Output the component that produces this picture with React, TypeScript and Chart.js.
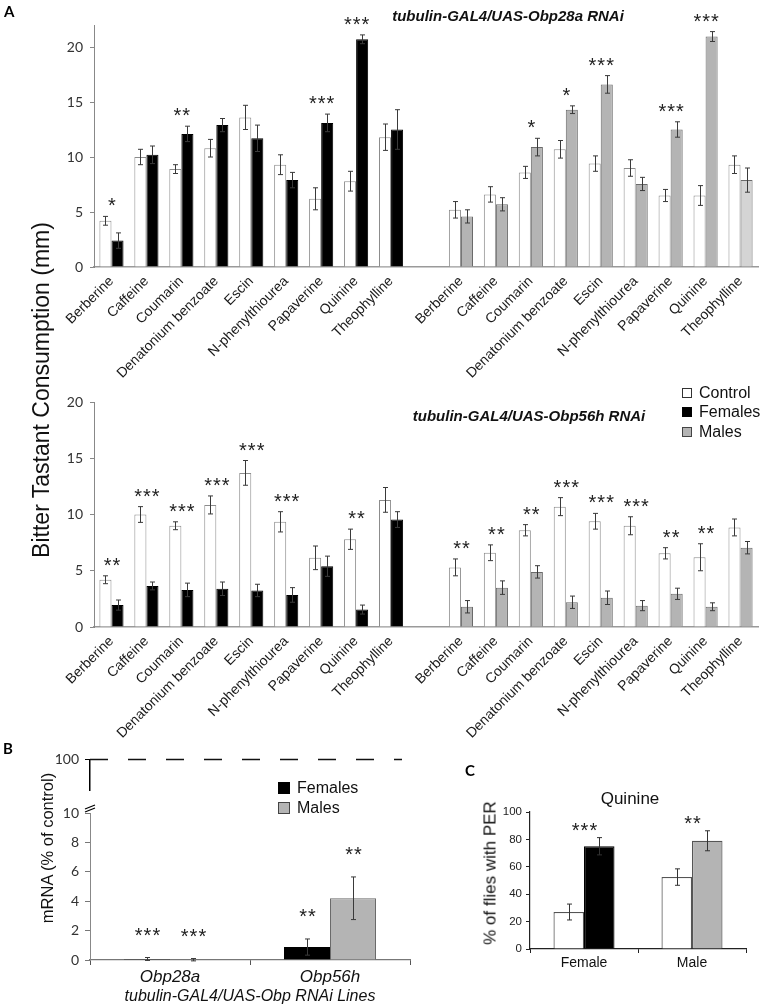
import React, { useEffect, useRef } from "react";
import { Chart, registerables } from "chart.js";
Chart.register(...registerables);

// ---------------- DATA ----------------
const tastants = ["Berberine", "Caffeine", "Coumarin", "Denatonium benzoate", "Escin", "N-phenylthiourea", "Papaverine", "Quinine", "Theophylline"];
const aCategories = [...tastants, "", ...tastants];

// Panel A (top): tubulin-GAL4/UAS-Obp28a RNAi — females (left), males (right)
const obp28aControl = [4.2, 10.0, 8.9, 10.8, 13.6, 9.3, 6.2, 7.8, 11.8, null, 5.2, 6.6, 8.6, 10.7, 9.4, 9.0, 6.5, 6.5, 9.3];
const obp28aControlErr = [0.4, 0.7, 0.4, 0.8, 1.1, 0.9, 1.0, 0.9, 1.2, null, 0.75, 0.7, 0.55, 0.8, 0.7, 0.75, 0.55, 0.9, 0.8];
const obp28aRnai = [2.4, 10.2, 12.1, 12.9, 11.7, 7.9, 13.1, 20.7, 12.5, null, 4.6, 5.7, 10.9, 14.3, 16.6, 7.55, 12.5, 20.95, 7.9];
const obp28aRnaiErr = [0.7, 0.8, 0.7, 0.6, 1.2, 0.7, 0.8, 0.4, 1.8, null, 0.6, 0.6, 0.8, 0.35, 0.8, 0.6, 0.7, 0.45, 1.1];
const obp28aStars = ["*", "", "**", "", "", "", "***", "***", "", "", "", "", "*", "*", "***", "", "***", "***", ""];

// Panel A (bottom): tubulin-GAL4/UAS-Obp56h RNAi
const obp56hControl = [4.2, 10.0, 9.0, 10.85, 13.7, 9.35, 6.15, 7.8, 11.3, null, 5.3, 6.6, 8.6, 10.7, 9.4, 9.0, 6.55, 6.2, 8.85];
const obp56hControlErr = [0.35, 0.7, 0.35, 0.8, 1.1, 0.9, 1.05, 0.9, 1.1, null, 0.75, 0.7, 0.5, 0.8, 0.7, 0.8, 0.5, 1.2, 0.75];
const obp56hRnai = [1.95, 3.65, 3.3, 3.4, 3.25, 2.85, 5.4, 1.55, 9.55, null, 1.8, 3.5, 4.9, 2.2, 2.6, 1.9, 2.95, 1.8, 7.05];
const obp56hRnaiErr = [0.45, 0.35, 0.6, 0.6, 0.55, 0.65, 0.9, 0.4, 0.7, null, 0.55, 0.6, 0.55, 0.55, 0.6, 0.45, 0.5, 0.35, 0.55];
const obp56hStars = ["**", "***", "***", "***", "***", "***", "", "**", "", "", "**", "**", "**", "***", "***", "***", "**", "**", ""];

// Panel B: mRNA (% of control)
const bLines = ["Obp28a", "Obp56h"];
const bFemales = [0.07, 0.88];
const bFemalesErr = [0.1, 0.55];
const bMales = [0.02, 4.2];
const bMalesErr = [0.08, 1.45];
const bFemaleStars = ["***", "**"];
const bMaleStars = ["***", "**"];
const bControlLevel = 100;
const bTopTicks = [100];

// Panel C: Quinine PER
const cSexes = ["Female", "Male"];
const cControl = [27, 52.5];
const cControlErr = [5.8, 6.0];
const cRnai = [75, 79];
const cRnaiErr = [6.3, 7.3];
const cStars = ["***", "**"];

// ---------------- STYLE ----------------
const SANS = '"Liberation Sans", Arial, sans-serif';
const CAL = 'Lato, "Liberation Sans", sans-serif';
const BLACK = "#000000";
const GRAY = "#b4b4b4";
const GRAY_LIGHT = "#d4d4d4";
const GRAY_EDGE = "#6a6a6a";

function rnaiColors(n: number, leftColor: string, rightColor: string, lastRight?: string) {
  const arr: string[] = [];
  for (let i = 0; i < n; i++) {
    if (i < 9) arr.push(leftColor);
    else if (i === 9) arr.push("rgba(0,0,0,0)");
    else arr.push(i === n - 1 && lastRight ? lastRight : rightColor);
  }
  return arr;
}

function makeErrPlugin(cfg: any) {
  return {
    id: "errStars",
    afterDatasetsDraw(chart: any) {
      const ctx = chart.ctx;
      const ys = chart.scales.y;
      const xs = chart.scales.x;
      const tops: number[] = [];
      const barTops: number[][] = [];
      ctx.save();
      ctx.strokeStyle = cfg.color || "#3a3a3a";
      ctx.lineWidth = 1;
      chart.data.datasets.forEach((ds: any, di: number) => {
        const errs = cfg.errors[di];
        const meta = chart.getDatasetMeta(di);
        barTops[di] = [];
        meta.data.forEach((bar: any, i: number) => {
          const v = ds.data[i];
          if (v == null) return;
          const e = errs && errs[i] != null ? errs[i] : 0;
          const yt = ys.getPixelForValue(v + e);
          const yb = ys.getPixelForValue(v - e);
          const x = Math.round(bar.x) + 0.5;
          if (e > 0) {
            ctx.beginPath();
            ctx.moveTo(x, yt);
            ctx.lineTo(x, yb);
            ctx.moveTo(x - cfg.cap, yt);
            ctx.lineTo(x + cfg.cap, yt);
            ctx.moveTo(x - cfg.cap, yb);
            ctx.lineTo(x + cfg.cap, yb);
            ctx.stroke();
          }
          barTops[di][i] = yt;
          tops[i] = Math.min(tops[i] ?? Infinity, yt);
        });
      });
      ctx.fillStyle = "#222";
      ctx.font = cfg.starFont;
      ctx.textAlign = "center";
      ctx.textBaseline = "alphabetic";
      if ("letterSpacing" in ctx) (ctx as any).letterSpacing = cfg.starSpacing || "0px";
      if (cfg.groupStars) {
        cfg.groupStars.forEach((s: string, i: number) => {
          if (!s) return;
          ctx.fillText(s, xs.getPixelForValue(i) + 1, tops[i] - cfg.starOffset);
        });
      }
      if (cfg.barStars) {
        cfg.barStars.forEach((arr: string[], di: number) =>
          arr.forEach((s: string, i: number) => {
            if (!s) return;
            const bar = chart.getDatasetMeta(di).data[i];
            ctx.fillText(s, bar.x + 1, barTops[di][i] - cfg.starOffset);
          })
        );
      }
      ctx.restore();
    },
  };
}

function panelAConfig(control: any[], controlErr: any[], rnai: any[], rnaiErr: any[], stars: string[], yMax: number, padTop: number, lightLast: boolean) {
  const fills = rnaiColors(aCategories.length, BLACK, GRAY, lightLast ? GRAY_LIGHT : undefined);
  const edges = rnaiColors(aCategories.length, BLACK, GRAY_EDGE);
  return {
    type: "bar",
    data: {
      labels: aCategories,
      datasets: [
        { label: "Control", data: control, backgroundColor: "#ffffff", borderColor: "#8c8c8c", borderWidth: 1 },
        { label: "RNAi", data: rnai, backgroundColor: fills, borderColor: edges, borderWidth: 1 },
      ],
    },
    options: {
      responsive: false,
      animation: false,
      layout: { padding: { top: padTop, right: 2, left: 0, bottom: 0 } },
      datasets: { bar: { categoryPercentage: 0.69, barPercentage: 1 } },
      plugins: { legend: { display: false }, tooltip: { enabled: false } },
      scales: {
        x: {
          type: "category",
          grid: { display: false, drawTicks: false },
          border: { color: "#9a9a9a", width: 1.5 },
          ticks: { autoSkip: false, minRotation: 45, maxRotation: 45, padding: 6, color: "#1a1a1a", font: { family: SANS, size: 14 } },
          afterFit: (s: any) => { s.height = 113; },
        },
        y: {
          min: 0,
          max: yMax,
          ticks: { stepSize: 5, includeBounds: false, padding: 7, color: "#333", font: { family: CAL, size: 14 } },
          grid: { drawOnChartArea: false, drawTicks: true, tickLength: 4, color: "#888" },
          border: { color: "#888", width: 1 },
          afterFit: (s: any) => { s.width = 94; },
        },
      },
    },
    plugins: [makeErrPlugin({ errors: [controlErr, rnaiErr], groupStars: stars, cap: 2.5, starFont: `20px ${SANS}`, starSpacing: "1px", starOffset: 4 })],
  };
}

const breakMarkPlugin = {
  id: "breakMark",
  afterDraw(chart: any) {
    const ctx = chart.ctx;
    const x = chart.chartArea.left;
    const y = chart.chartArea.top - 5;
    ctx.save();
    ctx.strokeStyle = "#000";
    ctx.lineWidth = 1.3;
    ctx.beginPath();
    ctx.moveTo(x - 5, y + 1);
    ctx.lineTo(x + 5, y - 3);
    ctx.moveTo(x - 5, y + 4);
    ctx.lineTo(x + 5, y);
    ctx.stroke();
    ctx.restore();
  },
};

function panelBTopConfig() {
  return {
    type: "line",
    data: {
      datasets: [
        {
          data: [{ x: 0, y: bControlLevel }, { x: 1, y: bControlLevel }],
          borderColor: "#111",
          borderWidth: 1.5,
          borderDash: [18, 20],
          pointRadius: 0,
          clip: false,
        },
      ],
    },
    options: {
      responsive: false,
      animation: false,
      layout: { padding: { top: 12, right: 18, left: 0, bottom: 2 } },
      plugins: { legend: { display: false }, tooltip: { enabled: false } },
      scales: {
        x: { type: "linear", min: 0, max: 1, display: false },
        y: {
          min: 92,
          max: 100,
          afterBuildTicks: (s: any) => { s.ticks = bTopTicks.map((v) => ({ value: v })); },
          ticks: { padding: 6, color: "#333", font: { family: CAL, size: 14 } },
          grid: { drawOnChartArea: false, drawTicks: true, tickLength: 5, color: "#000" },
          border: { color: "#000", width: 1.5 },
          afterFit: (s: any) => { s.width = 90; },
        },
      },
    },
  };
}

function panelBConfig() {
  return {
    type: "bar",
    data: {
      labels: bLines,
      datasets: [
        { label: "Females", data: bFemales, backgroundColor: BLACK, borderColor: BLACK, borderWidth: 1 },
        { label: "Males", data: bMales, backgroundColor: GRAY, borderColor: GRAY_EDGE, borderWidth: 1 },
      ],
    },
    options: {
      responsive: false,
      animation: false,
      layout: { padding: { top: 68, right: 10, left: 0, bottom: 0 } },
      datasets: { bar: { categoryPercentage: 0.575, barPercentage: 1 } },
      plugins: { legend: { display: false }, tooltip: { enabled: false } },
      scales: {
        x: {
          type: "category",
          grid: { display: true, drawOnChartArea: false, drawTicks: true, tickLength: 5, color: "#555", offset: true },
          border: { color: "#777", width: 1.2 },
          ticks: { padding: 2, color: "#111", font: { family: SANS, size: 17, style: "italic" } },
          title: { display: true, text: "tubulin-GAL4/UAS-Obp RNAi Lines", color: "#111", font: { family: SANS, size: 16, style: "italic" }, padding: { top: 0, bottom: 2 } },
          afterFit: (s: any) => { s.height = 48; },
        },
        y: {
          min: 0,
          max: 10,
          ticks: { stepSize: 2, padding: 6, color: "#333", font: { family: CAL, size: 14 } },
          grid: { drawOnChartArea: false, drawTicks: true, tickLength: 5, color: "#777" },
          border: { color: "#888", width: 1 },
          afterFit: (s: any) => { s.width = 90; },
        },
      },
    },
    plugins: [
      makeErrPlugin({ errors: [bFemalesErr, bMalesErr], barStars: [bFemaleStars, bMaleStars], cap: 2.5, starFont: `20px ${SANS}`, starSpacing: "1px", starOffset: 16 }),
      breakMarkPlugin,
    ],
  };
}

function panelCConfig() {
  return {
    type: "bar",
    data: {
      labels: cSexes,
      datasets: [
        { label: "Control", data: cControl, backgroundColor: "#ffffff", borderColor: "#555", borderWidth: 1.2 },
        { label: "RNAi", data: cRnai, backgroundColor: [BLACK, GRAY], borderColor: [BLACK, "#555"], borderWidth: 1.2 },
      ],
    },
    options: {
      responsive: false,
      animation: false,
      layout: { padding: { top: 37, right: 14, left: 0, bottom: 0 } },
      datasets: { bar: { categoryPercentage: 0.565, barPercentage: 1 } },
      plugins: { legend: { display: false }, tooltip: { enabled: false } },
      scales: {
        x: {
          type: "category",
          grid: { display: true, drawOnChartArea: false, drawTicks: true, tickLength: 4, color: "#222", offset: true },
          border: { color: "#222", width: 1.2 },
          ticks: { padding: 2, color: "#111", font: { family: SANS, size: 14 } },
          afterFit: (s: any) => { s.height = 59; },
        },
        y: {
          min: 0,
          max: 100,
          ticks: { stepSize: 20, padding: 4, color: "#222", font: { family: SANS, size: 11.5 } },
          grid: { drawOnChartArea: false, drawTicks: true, tickLength: 4, color: "#222" },
          border: { color: "#222", width: 1.2 },
          afterFit: (s: any) => { s.width = 110; },
        },
      },
    },
    plugins: [makeErrPlugin({ errors: [cControlErr, cRnaiErr], groupStars: cStars, cap: 2.5, starFont: `20px ${SANS}`, starSpacing: "1px", starOffset: 1, color: "#333" })],
  };
}

// ---------------- COMPONENTS ----------------
function ChartBox({ x, y, w, h, make }: { x: number; y: number; w: number; h: number; make: () => any }) {
  const ref = useRef<HTMLCanvasElement>(null);
  useEffect(() => {
    const chart = new Chart(ref.current as HTMLCanvasElement, make());
    return () => chart.destroy();
  }, []);
  return (
    <div style={{ position: "absolute", left: x, top: y, width: w, height: h }}>
      <canvas ref={ref} width={w} height={h} style={{ width: w, height: h, display: "block" }} />
    </div>
  );
}

function Txt({ x, y, children, style }: any) {
  return <div style={{ position: "absolute", left: x, top: y, whiteSpace: "nowrap", lineHeight: 1, ...style }}>{children}</div>;
}

function Centered({ cx, cy, children, style, rotate }: any) {
  return (
    <div
      style={{
        position: "absolute",
        left: cx,
        top: cy,
        whiteSpace: "nowrap",
        lineHeight: 1,
        transform: `translate(-50%, -50%)${rotate ? " rotate(-90deg)" : ""}`,
        ...style,
      }}
    >
      {children}
    </div>
  );
}

function LegendItem({ x, y, color, edge, label, size }: any) {
  return (
    <div style={{ position: "absolute", left: x, top: y - 9, height: 18, display: "flex", alignItems: "center", whiteSpace: "nowrap" }}>
      <div style={{ width: size, height: size, background: color, border: `1px solid ${edge}`, boxSizing: "border-box", marginRight: 7 }} />
      <span style={{ fontFamily: SANS, fontSize: 16, color: "#111" }}>{label}</span>
    </div>
  );
}

export default function App() {
  return (
    <div style={{ position: "absolute", left: 0, top: 0, width: 760, height: 1008, overflow: "hidden", background: "#fff", fontFamily: SANS }}>
      <ChartBox x={0} y={0} w={760} h={380} make={() => panelAConfig(obp28aControl, obp28aControlErr, obp28aRnai, obp28aRnaiErr, obp28aStars, 22, 25, true)} />
      <ChartBox x={0} y={380} w={760} h={360} make={() => panelAConfig(obp56hControl, obp56hControlErr, obp56hRnai, obp56hRnaiErr, obp56hStars, 20, 22, false)} />
      <ChartBox x={0} y={745} w={420} h={60} make={panelBTopConfig} />
      <ChartBox x={0} y={745} w={420} h={263} make={panelBConfig} />
      <ChartBox x={420} y={775} w={340} h={233} make={panelCConfig} />

      <Txt x={4} y={4} style={{ fontWeight: 700, fontSize: 15, fontFamily: CAL }}>A</Txt>
      <Txt x={3} y={741} style={{ fontWeight: 700, fontSize: 15, fontFamily: CAL }}>B</Txt>
      <Txt x={465} y={763} style={{ fontWeight: 700, fontSize: 15, fontFamily: CAL }}>C</Txt>

      <Centered cx={508} cy={15} style={{ fontWeight: 700, fontStyle: "italic", fontSize: 15, fontFamily: SANS, color: "#111" }}>
        tubulin-GAL4/UAS-Obp28a RNAi
      </Centered>
      <Centered cx={529} cy={415} style={{ fontWeight: 700, fontStyle: "italic", fontSize: 15, fontFamily: SANS, color: "#111" }}>
        tubulin-GAL4/UAS-Obp56h RNAi
      </Centered>

      <Centered cx={41} cy={390} rotate style={{ fontSize: 23, fontFamily: SANS, color: "#111" }}>
        Bitter Tastant Consumption (mm)
      </Centered>

      <LegendItem x={682} y={393} color="#fff" edge="#333" label="Control" size={10} />
      <LegendItem x={682} y={412} color="#000" edge="#000" label="Females" size={10} />
      <LegendItem x={682} y={432} color={GRAY} edge="#444" label="Males" size={10} />

      <Centered cx={47} cy={848} rotate style={{ fontSize: 16.5, fontFamily: SANS, color: "#111" }}>
        mRNA (% of control)
      </Centered>
      <LegendItem x={278} y={788} color="#000" edge="#000" label="Females" size={12} />
      <LegendItem x={278} y={808} color={GRAY} edge="#444" label="Males" size={12} />

      <Centered cx={630} cy={798} style={{ fontSize: 17, fontFamily: SANS, color: "#111" }}>
        Quinine
      </Centered>
      <Centered cx={490} cy={873} rotate style={{ fontSize: 17, fontFamily: SANS, color: "#111" }}>
        % of flies with PER
      </Centered>
    </div>
  );
}
